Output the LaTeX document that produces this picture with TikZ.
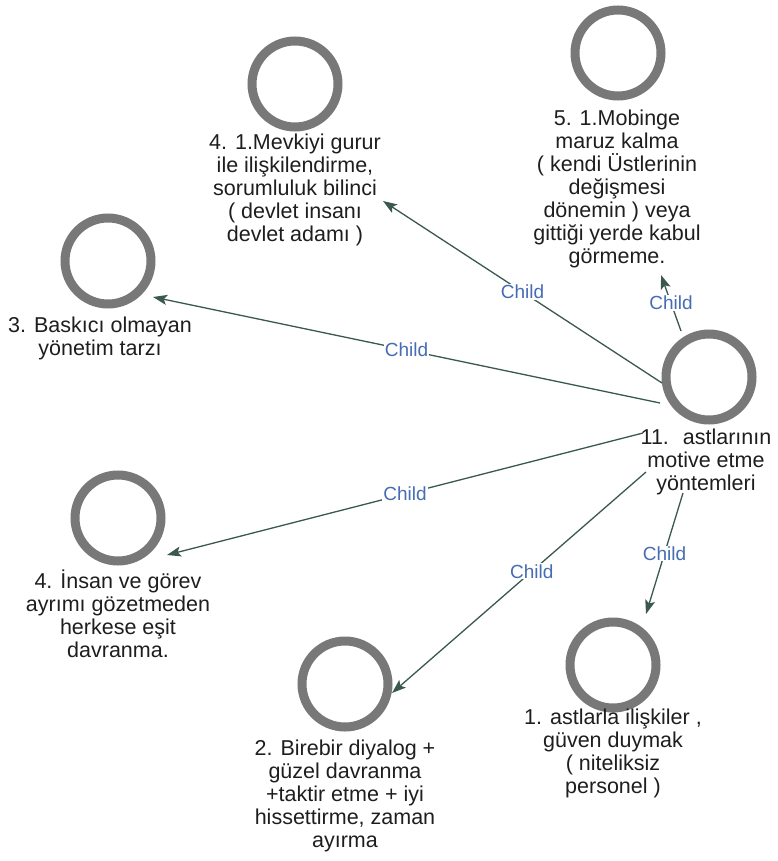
\documentclass[tikz,border=0pt]{standalone}
\usepackage{fontspec}
\setmainfont{Liberation Sans}
\usetikzlibrary{arrows.meta,calc}
\definecolor{ringgray}{RGB}{120,120,120}
\definecolor{edgecol}{RGB}{58,88,78}
\definecolor{childblue}{RGB}{70,108,180}
\definecolor{captext}{RGB}{30,30,30}
\begin{document}
\begin{tikzpicture}[x=1pt,y=-1pt,
  ring/.style={circle,draw=ringgray,line width=9pt,minimum size=86pt,inner sep=0pt},
  caption/.style={anchor=north,align=center,inner sep=0pt,
    font=\fontsize{21.5}{23}\selectfont,text=captext},
  link/.style={draw=edgecol,line width=1.3pt,
    -{Stealth[length=14pt,width=10pt,inset=3pt]}},
  childlbl/.style={fill=white,inner sep=1pt,text=childblue,
    font=\fontsize{19}{21}\selectfont}]
\useasboundingbox (0,0) rectangle (778,861);

% circles
\node[ring] (cm)  at (709,377) {};
\node[ring] (c41) at (295,84)  {};
\node[ring] (c51) at (618,53)  {};
\node[ring] (c3)  at (108,261) {};
\node[ring] (c4)  at (118,518) {};
\node[ring] (c2)  at (345,684) {};
\node[ring] (c1)  at (613,665) {};

% edges (drawn before captions)
\draw[link] ($(cm)+(-47,6)$)   -- node[childlbl]{Child} ($(c41)+(88,117)$);
\draw[link] ($(cm)+(-49,26)$)  -- node[childlbl]{Child} ($(c3)+(45,36)$);
\draw[link] ($(cm)+(-28,-46)$) -- node[childlbl]{Child} ($(c51)+(43,222)$);
\draw[link] ($(cm)+(-66,56)$)  -- node[childlbl]{Child} ($(c4)+(49,37)$);
\draw[link] ($(cm)+(-63,95)$)  -- node[childlbl,pos=0.45]{Child} ($(c2)+(47,9)$);
\draw[link] ($(cm)+(-26,116)$) -- node[childlbl]{Child} ($(c1)+(33,-51)$);

% captions
\node[caption] (tm)  at (706,429) {11.~ astlarının\\motive etme\\yöntemleri};
\node[caption] (t41) at (295,134) {4. 1.Mevkiyi gurur\\ile ilişkilendirme,\\sorumluluk bilinci\\( devlet insanı\\devlet adamı )};
\node[caption] (t51) at (617,110) {5. 1.Mobinge\\maruz kalma\\( kendi Üstlerinin\\değişmesi\\dönemin ) veya\\gittiği yerde kabul\\görmeme.};
\node[caption] (t3)  at (100,317) {3. Baskıcı olmayan\\yönetim tarzı};
\node[caption] (t4)  at (118,570) {4. İnsan ve görev\\ayrımı gözetmeden\\herkese eşit\\davranma.};
\node[caption] (t2)  at (345,740) {2. Birebir diyalog +\\güzel davranma\\+taktir etme + iyi\\hissettirme, zaman\\ayırma};
\node[caption] (t1)  at (613,709) {1. astlarla ilişkiler ,\\güven duymak\\( niteliksiz\\personel )};
\end{tikzpicture}
\end{document}
